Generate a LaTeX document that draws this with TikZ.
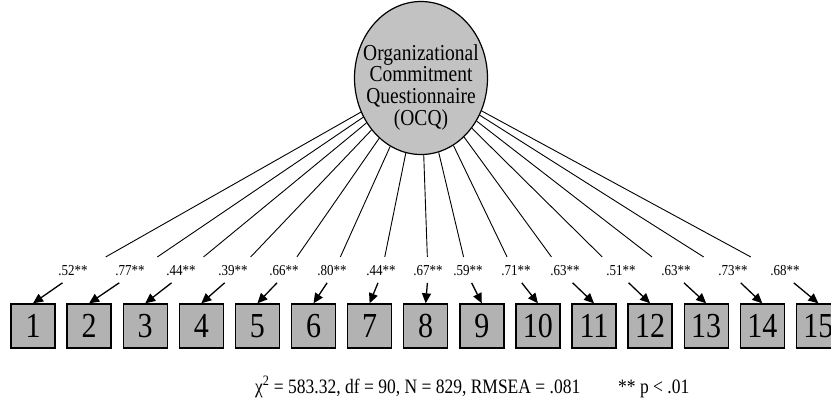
\documentclass[tikz,border=0pt]{standalone}
\usepackage{fontspec}
\setmainfont{Liberation Serif}
\usetikzlibrary{arrows.meta,shapes.geometric,calc}
\newcommand{\vst}[1]{\scalebox{1}[1.17]{#1}}
\tikzset{
  ocq/.style={ellipse, draw, line width=1.2pt, fill=black!24, minimum width=133pt, minimum height=153pt, inner sep=0pt},
  ocqtxt/.style={inner sep=0pt, font=\fontsize{19.5}{18.2}\selectfont},
  itembox/.style={rectangle, draw, line width=1.4pt, fill=black!30, minimum width=44pt, minimum height=44pt, inner sep=0pt, font=\fontsize{30}{30}\selectfont},
  loadlab/.style={anchor=base, inner sep=0pt, font=\fontsize{13}{13}\selectfont},
  loadline/.style={line width=0.9pt},
  loadarrow/.style={line width=1.3pt, -{Triangle[length=10pt,width=9pt]}},
  fitnote/.style={anchor=base west, inner sep=0pt, font=\fontsize{17.5}{17.5}\selectfont},
}
\begin{document}
\begin{tikzpicture}[x=1pt,y=-1pt]
\useasboundingbox (0,0) rectangle (831,402);
\node[ocq] (c) at (421,78) {};
\node[ocqtxt] (ocqtext) at (421,88) {\vst{\begin{tabular}{@{}c@{}}Organizational\\Commitment\\Questionnaire\\(OCQ)\end{tabular}}};
\foreach \i/\lx/\v in {1/73/.52, 2/130/.77, 3/181/.44, 4/233/.39, 5/284/.66, 6/332/.80, 7/381/.44, 8/428/.67, 9/468/.59, 10/516/.71, 11/565/.63, 12/621/.51, 13/676/.63, 14/733/.73, 15/785/.68}{
  \node[itembox] (b\i) at ({33+56.1*(\i-1)},326) {\vst{\i}};
  \node[loadlab] (l\i) at (\lx,275.5) {\vst{\v**}};
  \draw[loadline] (c) -- ($(c)!0.906!(l\i.base)$);
  \draw[loadarrow] ($(l\i.base)!0.263!(b\i.north)$) -- (b\i.north);
}
\node[fitnote] (fit) at (255,393) {\vst{χ\textsuperscript{2} = 583.32, df = 90, N = 829, RMSEA = .081}};
\node[fitnote] (sig) at (618,393) {\vst{** p < .01}};
\end{tikzpicture}
\end{document}
